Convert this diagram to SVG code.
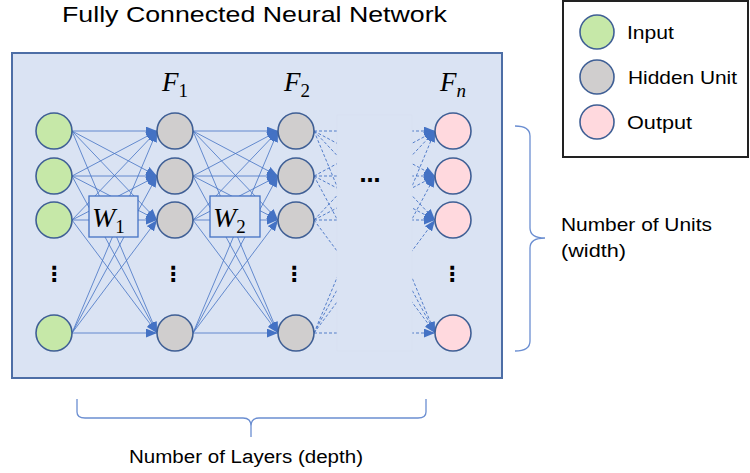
<svg xmlns="http://www.w3.org/2000/svg" width="750" height="473" viewBox="0 0 750 473">
<style>
.t{font-family:"Liberation Sans",Arial,sans-serif;fill:#000}
.m{font-family:"Liberation Serif","Times New Roman",serif;font-style:italic;fill:#000}
.s{font-family:"Liberation Serif","Times New Roman",serif;font-style:normal;fill:#000}
.in{fill:#c6e8a8;stroke:#3f5f95;stroke-width:1.6}
.hid{fill:#d0cece;stroke:#3f5f95;stroke-width:1.6}
.out{fill:#ffd9de;stroke:#3f5f95;stroke-width:1.6}
.c{stroke:#4472c4;stroke-width:0.8;fill:none}
.d{stroke:#4472c4;stroke-width:0.9;fill:none;stroke-dasharray:3 2}
.br{stroke:#6b8ed1;stroke-width:1.3;fill:none}
.dot{font-family:"DejaVu Sans",sans-serif;font-weight:bold;fill:#000}
</style>
<defs>
<marker id="ah" viewBox="0 0 10 8" refX="10" refY="4" markerWidth="11" markerHeight="9" markerUnits="userSpaceOnUse" orient="auto">
<path d="M0,0 L10,4 L0,8 z" fill="#4472c4"/>
</marker>
</defs>
<rect width="750" height="473" fill="#fff"/>
<text class="t" x="62" y="22" font-size="21.5" textLength="385" lengthAdjust="spacingAndGlyphs">Fully Connected Neural Network</text>
<rect id="network-box" x="12" y="53" width="490" height="325" fill="#dae3f3" stroke="#4d6ea6" stroke-width="2"/>

<g id="connectors">
<g marker-end="url(#ah)">
<line class="c" x1="72" y1="131" x2="157" y2="131"/><line class="c" x1="72" y1="131" x2="157" y2="176"/><line class="c" x1="72" y1="131" x2="157" y2="220"/><line class="c" x1="72" y1="131" x2="157" y2="333"/>
<line class="c" x1="72" y1="176" x2="157" y2="131"/><line class="c" x1="72" y1="176" x2="157" y2="176"/><line class="c" x1="72" y1="176" x2="157" y2="220"/><line class="c" x1="72" y1="176" x2="157" y2="333"/>
<line class="c" x1="72" y1="220" x2="157" y2="131"/><line class="c" x1="72" y1="220" x2="157" y2="176"/><line class="c" x1="72" y1="220" x2="157" y2="220"/><line class="c" x1="72" y1="220" x2="157" y2="333"/>
<line class="c" x1="72" y1="333" x2="157" y2="131"/><line class="c" x1="72" y1="333" x2="157" y2="176"/><line class="c" x1="72" y1="333" x2="157" y2="220"/><line class="c" x1="72" y1="333" x2="157" y2="333"/>
<line class="c" x1="193" y1="131" x2="278" y2="131"/><line class="c" x1="193" y1="131" x2="278" y2="176"/><line class="c" x1="193" y1="131" x2="278" y2="220"/><line class="c" x1="193" y1="131" x2="278" y2="333"/>
<line class="c" x1="193" y1="176" x2="278" y2="131"/><line class="c" x1="193" y1="176" x2="278" y2="176"/><line class="c" x1="193" y1="176" x2="278" y2="220"/><line class="c" x1="193" y1="176" x2="278" y2="333"/>
<line class="c" x1="193" y1="220" x2="278" y2="131"/><line class="c" x1="193" y1="220" x2="278" y2="176"/><line class="c" x1="193" y1="220" x2="278" y2="220"/><line class="c" x1="193" y1="220" x2="278" y2="333"/>
<line class="c" x1="193" y1="333" x2="278" y2="131"/><line class="c" x1="193" y1="333" x2="278" y2="176"/><line class="c" x1="193" y1="333" x2="278" y2="220"/><line class="c" x1="193" y1="333" x2="278" y2="333"/>
<line class="d" x1="351" y1="131" x2="435" y2="131"/><line class="d" x1="351" y1="131" x2="435" y2="176"/><line class="d" x1="351" y1="131" x2="435" y2="220"/><line class="d" x1="351" y1="131" x2="435" y2="333"/>
<line class="d" x1="351" y1="176" x2="435" y2="131"/><line class="d" x1="351" y1="176" x2="435" y2="176"/><line class="d" x1="351" y1="176" x2="435" y2="220"/><line class="d" x1="351" y1="176" x2="435" y2="333"/>
<line class="d" x1="351" y1="220" x2="435" y2="131"/><line class="d" x1="351" y1="220" x2="435" y2="176"/><line class="d" x1="351" y1="220" x2="435" y2="220"/><line class="d" x1="351" y1="220" x2="435" y2="333"/>
<line class="d" x1="351" y1="333" x2="435" y2="131"/><line class="d" x1="351" y1="333" x2="435" y2="176"/><line class="d" x1="351" y1="333" x2="435" y2="220"/><line class="d" x1="351" y1="333" x2="435" y2="333"/>
</g>
<line class="d" x1="314" y1="131" x2="398" y2="131"/><line class="d" x1="314" y1="131" x2="398" y2="176"/><line class="d" x1="314" y1="131" x2="398" y2="220"/><line class="d" x1="314" y1="131" x2="398" y2="333"/>
<line class="d" x1="314" y1="176" x2="398" y2="131"/><line class="d" x1="314" y1="176" x2="398" y2="176"/><line class="d" x1="314" y1="176" x2="398" y2="220"/><line class="d" x1="314" y1="176" x2="398" y2="333"/>
<line class="d" x1="314" y1="220" x2="398" y2="131"/><line class="d" x1="314" y1="220" x2="398" y2="176"/><line class="d" x1="314" y1="220" x2="398" y2="220"/><line class="d" x1="314" y1="220" x2="398" y2="333"/>
<line class="d" x1="314" y1="333" x2="398" y2="131"/><line class="d" x1="314" y1="333" x2="398" y2="176"/><line class="d" x1="314" y1="333" x2="398" y2="220"/><line class="d" x1="314" y1="333" x2="398" y2="333"/>
<rect x="337" y="115" width="75" height="236" fill="#dae3f3" stroke="#d6dff0" stroke-width="0.6"/>
</g>

<g id="W1"><rect x="89" y="196" width="49" height="41" fill="#dae3f3" stroke="#4472c4" stroke-width="1.3"/><text class="m" x="92" y="227" font-size="28">W<tspan class="s" font-size="19" dy="6">1</tspan></text></g>
<g id="W2"><rect x="210" y="196" width="50" height="41" fill="#dae3f3" stroke="#4472c4" stroke-width="1.3"/><text class="m" x="213" y="227" font-size="28">W<tspan class="s" font-size="19" dy="6">2</tspan></text></g>

<g id="input-layer">
<circle class="in" cx="54" cy="131" r="18"/><circle class="in" cx="54" cy="176" r="18"/><circle class="in" cx="54" cy="220" r="18"/><circle class="in" cx="54" cy="333" r="18"/>
<text class="dot" x="54" y="281" font-size="21" text-anchor="middle">⋮</text>
</g>
<g id="hidden-layer-1">
<text class="m" x="162" y="91" font-size="27">F<tspan class="s" font-size="19" dy="6">1</tspan></text>
<circle class="hid" cx="175" cy="131" r="18"/><circle class="hid" cx="175" cy="176" r="18"/><circle class="hid" cx="175" cy="220" r="18"/><circle class="hid" cx="175" cy="333" r="18"/>
<text class="dot" x="173" y="281" font-size="21" text-anchor="middle">⋮</text>
</g>
<g id="hidden-layer-2">
<text class="m" x="284" y="91" font-size="27">F<tspan class="s" font-size="19" dy="6">2</tspan></text>
<circle class="hid" cx="296" cy="131" r="18"/><circle class="hid" cx="296" cy="176" r="18"/><circle class="hid" cx="296" cy="220" r="18"/><circle class="hid" cx="296" cy="333" r="18"/>
<text class="dot" x="294" y="281" font-size="21" text-anchor="middle">⋮</text>
</g>
<g id="ellipsis"><text class="dot" x="370" y="182" font-size="21" text-anchor="middle">…</text></g>
<g id="output-layer">
<text class="m" x="440" y="91" font-size="27">F<tspan font-size="19" dy="6">n</tspan></text>
<circle class="out" cx="453" cy="131" r="18"/><circle class="out" cx="453" cy="176" r="18"/><circle class="out" cx="453" cy="220" r="18"/><circle class="out" cx="453" cy="333" r="18"/>
<text class="dot" x="452" y="281" font-size="21" text-anchor="middle">⋮</text>
</g>

<g id="legend">
<rect x="563" y="1" width="185" height="156" fill="#fff" stroke="#222" stroke-width="2"/>
<circle class="in" cx="597" cy="32" r="17"/><text class="t" x="627" y="39" font-size="18.5" textLength="47" lengthAdjust="spacingAndGlyphs">Input</text>
<circle class="hid" cx="597" cy="77" r="17"/><text class="t" x="628" y="84" font-size="18.5" textLength="109" lengthAdjust="spacingAndGlyphs">Hidden Unit</text>
<circle class="out" cx="597" cy="122" r="17"/><text class="t" x="627" y="129" font-size="18.5" textLength="65" lengthAdjust="spacingAndGlyphs">Output</text>
</g>

<g id="width-brace">
<path class="br" d="M515,126 Q530,126 530,136 L530,228 Q530,238 545,238 Q530,238 530,248 L530,341 Q530,351 515,351"/>
<text class="t" x="561" y="231" font-size="19" textLength="151" lengthAdjust="spacingAndGlyphs">Number of Units</text>
<text class="t" x="561" y="257" font-size="19" textLength="65" lengthAdjust="spacingAndGlyphs">(width)</text>
</g>
<g id="depth-brace">
<path class="br" d="M77,399 L77,412 Q77,418 85,418 L243,418 Q251,418 251,426 L251,437 M251,426 Q251,418 259,418 L418,418 Q426,418 426,412 L426,399"/>
<text class="t" x="129" y="463" font-size="18" textLength="234" lengthAdjust="spacingAndGlyphs">Number of Layers (depth)</text>
</g>
</svg>
